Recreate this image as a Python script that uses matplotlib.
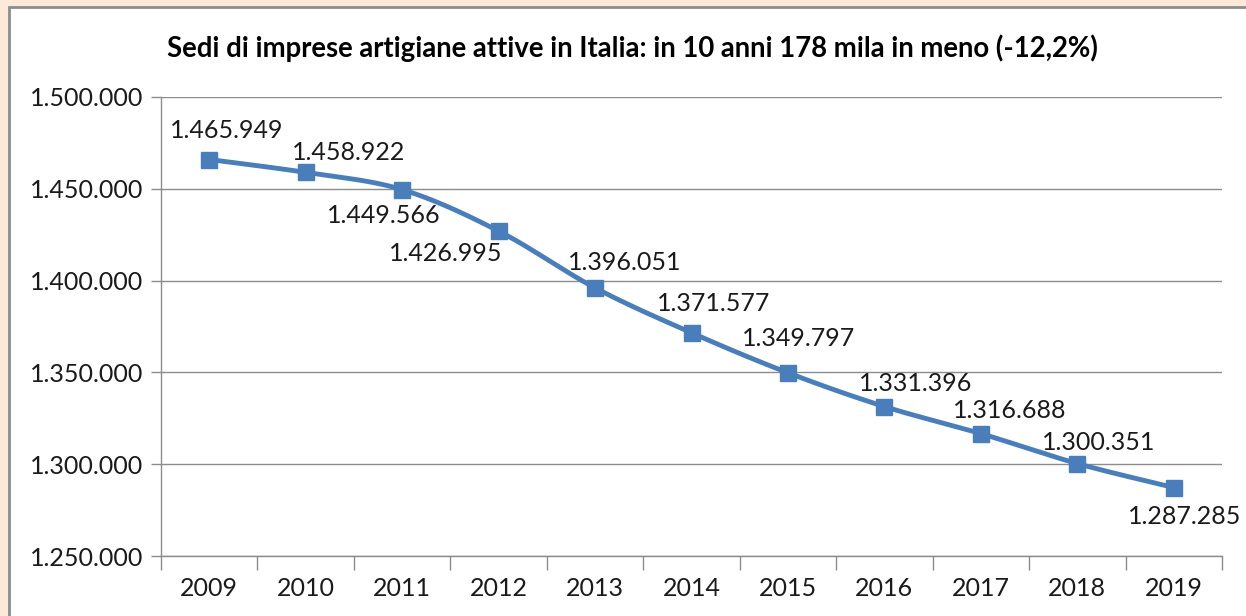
import numpy as np
import matplotlib
matplotlib.use('Agg')
import matplotlib.pyplot as plt
from matplotlib.patches import Rectangle
from matplotlib.ticker import FuncFormatter, FixedLocator

# dati: sedi di imprese artigiane attive
anni = ['2009', '2010', '2011', '2012', '2013', '2014', '2015', '2016', '2017', '2018', '2019']
sedi = [1465949, 1458922, 1449566, 1426995, 1396051, 1371577, 1349797, 1331396, 1316688, 1300351, 1287285]
# posizione delle etichette (offset in pixel rispetto al punto)
offset_etichette = [(17, 29), (43, 20), (-18, -26), (-53, -22), (30, 25), (22, 29),
                    (11, 34), (31, 23), (29, 23), (21, 21), (11, -29)]

titolo = 'Sedi di imprese artigiane attive in Italia: in 10 anni 178 mila in meno (-12,2%)'

BLU = '#4a7ebb'
GRIGIO = '#8c8c8c'
FONT = 'Lato'
TESTO = '#1a1a1a'


def formato_it(v, pos=None):
    return f'{int(round(v)):,}'.replace(',', '.')


def catmull_rom(px, py, n=30):
    # curva smussata stile Excel, calcolata in spazio pixel
    P = np.column_stack([px, py]).astype(float)
    P = np.vstack([P[0], P, P[-1]])
    out = []
    t = np.linspace(0, 1, n)[:, None]
    for i in range(1, len(P) - 2):
        p0, p1, p2, p3 = P[i - 1], P[i], P[i + 1], P[i + 2]
        c1 = p1 + (p2 - p0) / 6
        c2 = p2 - (p3 - p1) / 6
        seg = ((1 - t) ** 3) * p1 + 3 * ((1 - t) ** 2) * t * c1 + 3 * (1 - t) * t ** 2 * c2 + t ** 3 * p2
        out.append(seg if i == 1 else seg[1:])
    out = np.vstack(out)
    return out[:, 0], out[:, 1]


fig = plt.figure(figsize=(12.46, 6.16), dpi=100)
fig.set_facecolor('#fde9d9')

# cornice bianca del grafico
fig.patches.append(Rectangle((9 / 1246, -0.01), 1.0, 1 - 7 / 616 + 0.01,
                             transform=fig.transFigure, facecolor='white',
                             edgecolor=GRIGIO, linewidth=2, zorder=-10))

ax = fig.add_axes([161 / 1246, 1 - 556 / 616, (1222 - 161) / 1246, (556 - 97) / 616])
ax.set_facecolor('white')
ax.set_xlim(-0.5, len(anni) - 0.5)
ax.set_ylim(1250000, 1500000)

# griglia orizzontale
ax.yaxis.set_major_locator(FixedLocator(np.arange(1250000, 1500001, 50000)))
ax.yaxis.set_major_formatter(FuncFormatter(formato_it))
ax.grid(axis='y', color=GRIGIO, linewidth=1)
ax.set_axisbelow(True)

x = np.arange(len(anni))
ax.set_xticks(x)
ax.set_xticklabels(anni)
ax.set_xticks(np.arange(-0.5, len(anni)), minor=True)
ax.tick_params(axis='x', which='major', length=0, pad=15, labelsize=18, labelcolor=TESTO)
ax.tick_params(axis='x', which='minor', length=10, color=GRIGIO, width=1)
ax.tick_params(axis='y', length=7, color=GRIGIO, width=1, labelsize=18, labelcolor=TESTO, pad=6)
for lab in ax.get_xticklabels() + ax.get_yticklabels():
    lab.set_family(FONT)

for s in ['top', 'right']:
    ax.spines[s].set_visible(False)
for s in ['left', 'bottom']:
    ax.spines[s].set_color(GRIGIO)
    ax.spines[s].set_linewidth(1)

# linea smussata calcolata in spazio pixel
W, H = 1061.0, 459.0
px = (x + 0.5) / len(anni) * W
py = (np.array(sedi) - 1250000) / 250000 * H
sx, sy = catmull_rom(px, py)
ax.plot(sx / W * len(anni) - 0.5, sy / H * 250000 + 1250000, color=BLU, linewidth=3.5,
        solid_capstyle='round', zorder=3)
ax.plot(x, sedi, linestyle='none', marker='s', markersize=11, color=BLU, zorder=4)

for xi, v, (dx, dy) in zip(x, sedi, offset_etichette):
    ax.annotate(formato_it(v), (xi, v), xytext=(dx, dy), textcoords='offset pixels',
                ha='center', va='center', fontsize=18, family=FONT, color=TESTO,
                zorder=5)

fig.text(632 / 1246, 1 - 48 / 616, titolo, ha='center', va='center',
         fontsize=19.8, fontweight='bold', family=FONT, color='black')

fig.savefig('out.png', dpi=100, facecolor=fig.get_facecolor())
